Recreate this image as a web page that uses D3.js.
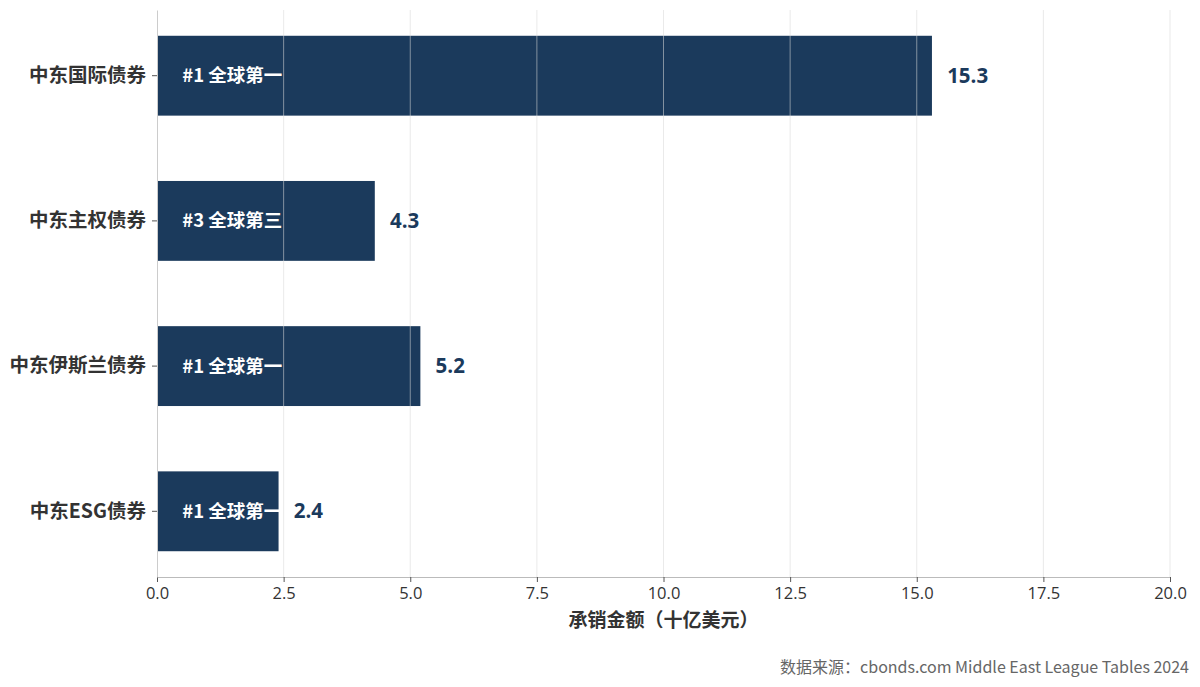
<!DOCTYPE html>
<html>
<head>
<meta charset="utf-8">
<script src="https://cdn.jsdelivr.net/npm/d3@7"></script>
<style>
  body { margin: 0; background: #fff; }
  text { font-family: "Noto Sans CJK SC", "Noto Sans", sans-serif; }
</style>
</head>
<body>
<div id="d3-container"></div>
<script>
/**
 * DATA
 * */
const categories = ["中东国际债券", "中东主权债券", "中东伊斯兰债券", "中东ESG债券"];
const amounts = [15.3, 4.3, 5.2, 2.4];
const ranks = ["#1 全球第一", "#3 全球第三", "#1 全球第一", "#1 全球第一"];
const xTicks = [0, 2.5, 5, 7.5, 10, 12.5, 15, 17.5, 20];

/**
 * CONSTANTS
 * */
const width = 1200,
  height = 687,
  margin = { top: 10, bottom: 110, left: 157, right: 30 };

const barColor = "#1b3a5c";

const rows = categories.map((c, i) => ({ cat: c, value: amounts[i], rank: ranks[i] }));

const svg = d3.select("#d3-container")
  .append("svg")
  .attr("width", width)
  .attr("height", height);

const x = d3.scaleLinear()
  .domain([0, 20])
  .range([margin.left, width - margin.right]);

const y = d3.scaleBand()
  .domain(categories)
  .range([margin.top, height - margin.bottom])
  .paddingInner(0.45)
  .paddingOuter(0.1775);

// bars
svg.selectAll("rect.bar")
  .data(rows)
  .join("rect")
  .attr("class", "bar")
  .attr("x", x(0))
  .attr("y", d => y(d.cat))
  .attr("width", d => x(d.value) - x(0))
  .attr("height", y.bandwidth())
  .attr("fill", barColor);

// gridlines (drawn over the bars, faint)
svg.selectAll("line.grid")
  .data(xTicks.slice(1))
  .join("line")
  .attr("class", "grid")
  .attr("x1", d => x(d))
  .attr("x2", d => x(d))
  .attr("y1", margin.top)
  .attr("y2", height - margin.bottom)
  .attr("stroke", "#d8d8d8")
  .attr("stroke-opacity", 0.55)
  .attr("stroke-width", 1);

// x axis
const xAxis = svg.append("g")
  .attr("transform", `translate(0,${height - margin.bottom})`)
  .call(d3.axisBottom(x).tickValues(xTicks).tickFormat(d3.format(".1f"))
    .tickSize(5).tickSizeOuter(0).tickPadding(5));
xAxis.select(".domain").attr("stroke", "#bbbbbb");
xAxis.selectAll(".tick line").attr("stroke", "#555");
xAxis.selectAll(".tick text")
  .attr("fill", "#333")
  .style("font-family", "'Open Sans', 'Noto Sans', sans-serif")
  .style("font-size", "16.5px");

// y axis
const yAxis = svg.append("g")
  .attr("transform", `translate(${margin.left},0)`)
  .call(d3.axisLeft(y).tickSize(5).tickSizeOuter(0).tickPadding(6));
yAxis.select(".domain").attr("stroke", "#cccccc");
yAxis.selectAll(".tick line").attr("stroke", "#555");
yAxis.selectAll(".tick text")
  .attr("fill", "#333")
  .style("font-size", "19.5px")
  .style("font-weight", "bold");

// rank labels inside bars
svg.selectAll("text.rank")
  .data(rows)
  .join("text")
  .attr("class", "rank")
  .attr("x", x(0.5))
  .attr("y", d => y(d.cat) + y.bandwidth() / 2)
  .attr("dy", "0.35em")
  .attr("fill", "#fff")
  .style("font-size", "18.5px")
  .style("font-weight", "bold")
  .text(d => d.rank);

// value labels
svg.selectAll("text.value")
  .data(rows)
  .join("text")
  .attr("class", "value")
  .attr("x", d => x(d.value + 0.3))
  .attr("y", d => y(d.cat) + y.bandwidth() / 2)
  .attr("dy", "0.35em")
  .attr("fill", barColor)
  .style("font-family", "'Open Sans', 'Noto Sans', sans-serif")
  .style("font-size", "20.5px")
  .style("font-weight", "bold")
  .text(d => d.value.toFixed(1));

// axis title
svg.append("text")
  .attr("x", (x(0) + x(20)) / 2)
  .attr("y", 627)
  .attr("text-anchor", "middle")
  .attr("fill", "#333")
  .style("font-size", "19px")
  .style("font-weight", "bold")
  .text("承销金额（十亿美元）");

// source note
svg.append("text")
  .attr("x", 1189)
  .attr("y", 673)
  .attr("text-anchor", "end")
  .attr("fill", "#666")
  .style("font-size", "16px")
  .text("数据来源：cbonds.com Middle East League Tables 2024");
</script>
</body>
</html>
